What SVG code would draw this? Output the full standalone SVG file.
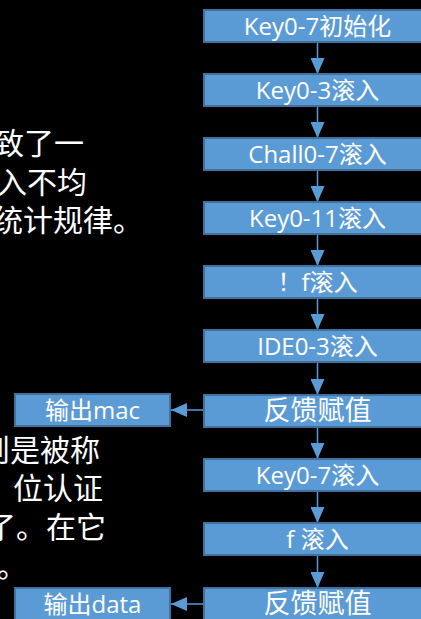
<svg xmlns="http://www.w3.org/2000/svg" width="421" height="619" viewBox="0 0 421 619">
<style>
.box{fill:#5B9BD5;stroke:#41719C;stroke-width:2}
.bt{fill:#fff;font-family:"Open Sans","Noto Sans CJK SC",sans-serif;font-size:24px;text-anchor:middle}
.big{font-size:27px}
.para{fill:#fff;font-family:"Noto Sans CJK SC",sans-serif;font-size:30px}
.con{stroke:#5B9BD5;stroke-width:1.5;fill:none}
</style>
<defs>
<marker id="ah" markerUnits="userSpaceOnUse" markerWidth="16" markerHeight="14" refX="16" refY="7" orient="auto">
<path d="M0,0 L16,7 L0,14 Z" fill="#5B9BD5"/>
</marker>
</defs>
<rect width="421" height="619" fill="#000"/>
<g id="para1">
<text class="para" x="-6" y="154">致了一</text>
<text class="para" x="-3" y="193">入不均</text>
<text class="para" x="-7" y="231">统计规律。</text>
</g>
<g id="para2">
<text class="para" x="-20" y="461">则是被称</text>
<text class="para" x="13" y="499">位认证</text>
<text class="para" x="-14" y="538">了。在它</text>
<text class="para" x="-3" y="577">。</text>
</g>
<g id="connectors">
<line class="con" x1="317.5" y1="42" x2="317.5" y2="74" marker-end="url(#ah)"/>
<line class="con" x1="317.5" y1="106" x2="317.5" y2="138" marker-end="url(#ah)"/>
<line class="con" x1="317.5" y1="170" x2="317.5" y2="202" marker-end="url(#ah)"/>
<line class="con" x1="317.5" y1="234" x2="317.5" y2="266" marker-end="url(#ah)"/>
<line class="con" x1="317.5" y1="298" x2="317.5" y2="330" marker-end="url(#ah)"/>
<line class="con" x1="317.5" y1="362" x2="317.5" y2="395" marker-end="url(#ah)"/>
<line class="con" x1="317.5" y1="427" x2="317.5" y2="459" marker-end="url(#ah)"/>
<line class="con" x1="317.5" y1="491" x2="317.5" y2="523" marker-end="url(#ah)"/>
<line class="con" x1="317.5" y1="555" x2="317.5" y2="588" marker-end="url(#ah)"/>
<line class="con" x1="205" y1="410" x2="171" y2="410" marker-end="url(#ah)"/>
<line class="con" x1="205" y1="604" x2="171" y2="604" marker-end="url(#ah)"/>
</g>
<g id="n1"><rect class="box" x="204" y="10" width="230" height="32"/><text class="bt" x="317.5" y="34.5">Key0-7初始化</text></g>
<g id="n2"><rect class="box" x="204" y="74" width="230" height="32"/><text class="bt" x="317.5" y="98.5">Key0-3滚入</text></g>
<g id="n3"><rect class="box" x="204" y="138" width="230" height="32"/><text class="bt" x="317.5" y="162.5">Chall0-7滚入</text></g>
<g id="n4"><rect class="box" x="204" y="202" width="230" height="32"/><text class="bt" x="317.5" y="226.5">Key0-11滚入</text></g>
<g id="n5"><rect class="box" x="204" y="266" width="230" height="32"/><text class="bt" x="317.5" y="290.5">！f滚入</text></g>
<g id="n6"><rect class="box" x="204" y="330" width="230" height="32"/><text class="bt" x="317.5" y="354.5">IDE0-3滚入</text></g>
<g id="n7"><rect class="box" x="204" y="395" width="230" height="32"/><text class="bt big" x="317.5" y="420">反馈赋值</text></g>
<g id="n8"><rect class="box" x="204" y="459" width="230" height="32"/><text class="bt" x="317.5" y="483.5">Key0-7滚入</text></g>
<g id="n9"><rect class="box" x="204" y="523" width="230" height="32"/><text class="bt" x="317.5" y="547.5">f 滚入</text></g>
<g id="n10"><rect class="box" x="204" y="588" width="230" height="34"/><text class="bt big" x="317.5" y="613">反馈赋值</text></g>
<g id="mac"><rect class="box" x="15" y="394" width="155" height="32"/><text class="bt" x="92.5" y="418.5">输出mac</text></g>
<g id="data"><rect class="box" x="15" y="588" width="155" height="34"/><text class="bt" x="92.5" y="612.5">输出data</text></g>
</svg>
